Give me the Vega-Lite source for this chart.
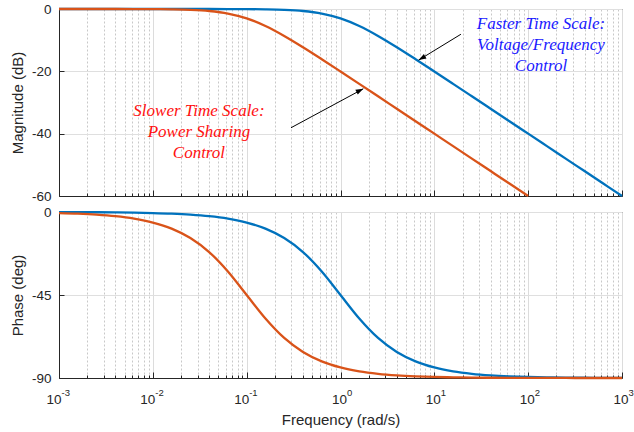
{
  "$schema": "https://vega.github.io/schema/vega-lite/v6.json",
  "background": "white",
  "padding": {"left": 9, "top": 1, "right": 5, "bottom": 5},
  "spacing": 16,
  "bounds": "flush",
  "config": {
    "view": {"stroke": "#262626", "strokeWidth": 1},
    "axis": {
      "labelFont": "Liberation Sans",
      "titleFont": "Liberation Sans",
      "labelColor": "#262626",
      "titleColor": "#262626",
      "labelFontSize": 13.5,
      "titleFontSize": 15,
      "titleFontWeight": "normal",
      "domainColor": "#262626",
      "tickColor": "#262626",
      "gridColor": "#dfdfdf",
      "labelFlush": false,
      "labelOverlap": false
    }
  },
  "datasets": {
    "curves": [
      {"w": 0.001, "mb": 0, "mr": -0.0004, "pb": -0.057, "pr": -0.573},
      {"w": 0.001585, "mb": 0, "mr": -0.001, "pb": -0.091, "pr": -0.908},
      {"w": 0.002512, "mb": 0, "mr": -0.003, "pb": -0.144, "pr": -1.439},
      {"w": 0.003981, "mb": 0, "mr": -0.007, "pb": -0.228, "pr": -2.28},
      {"w": 0.00631, "mb": 0, "mr": -0.017, "pb": -0.362, "pr": -3.611},
      {"w": 0.01, "mb": -0.0004, "mr": -0.043, "pb": -0.573, "pr": -5.711},
      {"w": 0.01585, "mb": -0.001, "mr": -0.108, "pb": -0.908, "pr": -9.006},
      {"w": 0.02512, "mb": -0.003, "mr": -0.266, "pb": -1.439, "pr": -14.1},
      {"w": 0.03981, "mb": -0.007, "mr": -0.639, "pb": -2.28, "pr": -21.7},
      {"w": 0.0631, "mb": -0.017, "mr": -1.456, "pb": -3.611, "pr": -32.25},
      {"w": 0.1, "mb": -0.043, "mr": -3.01, "pb": -5.711, "pr": -45},
      {"w": 0.1585, "mb": -0.108, "mr": -5.455, "pb": -9.006, "pr": -57.75},
      {"w": 0.2512, "mb": -0.266, "mr": -8.639, "pb": -14.1, "pr": -68.3},
      {"w": 0.3981, "mb": -0.639, "mr": -12.266, "pb": -21.7, "pr": -75.9},
      {"w": 0.631, "mb": -1.456, "mr": -16.108, "pb": -32.25, "pr": -80.99},
      {"w": 1, "mb": -3.01, "mr": -20.043, "pb": -45, "pr": -84.29},
      {"w": 1.585, "mb": -5.455, "mr": -24.017, "pb": -57.75, "pr": -86.39},
      {"w": 2.512, "mb": -8.639, "mr": -28.007, "pb": -68.3, "pr": -87.72},
      {"w": 3.981, "mb": -12.266, "mr": -32.003, "pb": -75.9, "pr": -88.56},
      {"w": 6.31, "mb": -16.108, "mr": -36.001, "pb": -80.99, "pr": -89.09},
      {"w": 10, "mb": -20.043, "mr": -40, "pb": -84.29, "pr": -89.43},
      {"w": 15.85, "mb": -24.017, "mr": -44, "pb": -86.39, "pr": -89.64},
      {"w": 25.12, "mb": -28.007, "mr": -48, "pb": -87.72, "pr": -89.77},
      {"w": 39.81, "mb": -32.003, "mr": -52, "pb": -88.56, "pr": -89.86},
      {"w": 63.1, "mb": -36.001, "mr": -56, "pb": -89.09, "pr": -89.91},
      {"w": 100, "mb": -40, "mr": -60, "pb": -89.43, "pr": -89.94},
      {"w": 158.5, "mb": -44, "pb": -89.64, "pr": -89.96},
      {"w": 251.2, "mb": -48, "pb": -89.77, "pr": -89.98},
      {"w": 398.1, "mb": -52, "pb": -89.86, "pr": -89.99},
      {"w": 631, "mb": -56, "pb": -89.91, "pr": -89.99},
      {"w": 1000, "mb": -60, "pb": -89.94, "pr": -89.99}
    ],
    "arrows": [
      {"id": "slow", "x0": 0.297, "y0": -38.1, "x1": 1.75, "y1": -25.6},
      {"id": "fast", "x0": 19.2, "y0": -8.1, "x1": 6.8, "y1": -16.4}
    ],
    "notes": [
      {"id": "slow", "x": 0.031, "y": -32.7, "label": "Slower Time Scale:\nPower Sharing\nControl"},
      {"id": "fast", "x": 137, "y": -4.9, "label": "Faster Time Scale:\nVoltage/Frequency\nControl"}
    ],
    "exps": [
      {"w": 0.001, "e": "-3"},
      {"w": 0.01, "e": "-2"},
      {"w": 0.1, "e": "-1"},
      {"w": 1, "e": "0"},
      {"w": 10, "e": "1"},
      {"w": 100, "e": "2"},
      {"w": 1000, "e": "3"}
    ]
  },
  "vconcat": [
    {
      "width": 563,
      "height": 187,
      "layer": [
        {
          "data": {"name": "curves"},
          "mark": {"type": "line", "color": "#0072BD", "strokeWidth": 2.3, "interpolate": "monotone"},
          "encoding": {
            "x": {
              "field": "w", "type": "quantitative",
              "scale": {"type": "log", "domain": [0.001, 1000], "nice": false},
              "axis": {
                "title": null,
                "labels": false,
                "values": [0.001,0.002,0.003,0.004,0.005,0.006,0.007,0.008,0.009,0.01,0.02,0.03,0.04,0.05,0.06,0.07,0.08,0.09,0.1,0.2,0.3,0.4,0.5,0.6,0.7,0.8,0.9,1,2,3,4,5,6,7,8,9,10,20,30,40,50,60,70,80,90,100,200,300,400,500,600,700,800,900,1000],
                "tickSize": {"condition": {"test": "abs(log(datum.value)/LN10 - round(log(datum.value)/LN10)) < 0.001", "value": -6}, "value": -3},
                "gridDash": {"condition": {"test": "abs(log(datum.value)/LN10 - round(log(datum.value)/LN10)) < 0.001", "value": []}, "value": [2, 2]},
                "gridColor": {"condition": {"test": "abs(log(datum.value)/LN10 - round(log(datum.value)/LN10)) < 0.001", "value": "#dcdcdc"}, "value": "#c8c8c8"}
              }
            },
            "y": {
              "field": "mb", "type": "quantitative",
              "scale": {"domain": [-60, 0], "nice": false},
              "axis": {
                "title": "Magnitude (dB)",
                "values": [-60, -40, -20, 0],
                "labelExpr": "'' + datum.value",
                "tickSize": -5,
                "labelPadding": 13,
                "titlePadding": 6
              }
            }
          }
        },
        {
          "data": {"name": "curves"},
          "mark": {"type": "line", "color": "#D95319", "strokeWidth": 2.3, "interpolate": "monotone"},
          "encoding": {
            "x": {"field": "w", "type": "quantitative"},
            "y": {"field": "mr", "type": "quantitative"}
          }
        },
        {
          "data": {"name": "arrows"},
          "mark": {"type": "rule", "color": "black", "strokeWidth": 1},
          "encoding": {
            "x": {"field": "x0", "type": "quantitative"},
            "y": {"field": "y0", "type": "quantitative"},
            "x2": {"field": "x1"},
            "y2": {"field": "y1"}
          }
        },
        {
          "data": {"name": "arrows"},
          "transform": [{"filter": "datum.id == 'slow'"}],
          "mark": {"type": "point", "shape": "M0,0L-0.35,1L0.35,1Z", "filled": true, "color": "black", "opacity": 1, "size": 230, "angle": 63},
          "encoding": {
            "x": {"field": "x1", "type": "quantitative"},
            "y": {"field": "y1", "type": "quantitative"}
          }
        },
        {
          "data": {"name": "arrows"},
          "transform": [{"filter": "datum.id == 'fast'"}],
          "mark": {"type": "point", "shape": "M0,0L-0.35,1L0.35,1Z", "filled": true, "color": "black", "opacity": 1, "size": 230, "angle": 240},
          "encoding": {
            "x": {"field": "x1", "type": "quantitative"},
            "y": {"field": "y1", "type": "quantitative"}
          }
        },
        {
          "data": {"name": "notes"},
          "mark": {"type": "text", "font": "Liberation Serif", "fontStyle": "italic", "fontSize": 17, "lineBreak": "\n", "lineHeight": 21, "align": "center", "baseline": "middle"},
          "encoding": {
            "x": {"field": "x", "type": "quantitative"},
            "y": {"field": "y", "type": "quantitative"},
            "text": {"field": "label"},
            "color": {"field": "id", "type": "nominal", "scale": {"domain": ["slow", "fast"], "range": ["#ff1010", "#1a1aff"]}, "legend": null}
          }
        }
      ]
    },
    {
      "width": 563,
      "height": 166,
      "layer": [
        {
          "data": {"name": "curves"},
          "mark": {"type": "line", "color": "#0072BD", "strokeWidth": 2.3, "interpolate": "monotone"},
          "encoding": {
            "x": {
              "field": "w", "type": "quantitative",
              "scale": {"type": "log", "domain": [0.001, 1000], "nice": false},
              "axis": {
                "title": "Frequency  (rad/s)",
                "values": [0.001,0.002,0.003,0.004,0.005,0.006,0.007,0.008,0.009,0.01,0.02,0.03,0.04,0.05,0.06,0.07,0.08,0.09,0.1,0.2,0.3,0.4,0.5,0.6,0.7,0.8,0.9,1,2,3,4,5,6,7,8,9,10,20,30,40,50,60,70,80,90,100,200,300,400,500,600,700,800,900,1000],
                "labelExpr": "abs(log(datum.value)/LN10 - round(log(datum.value)/LN10)) > 0.001 ? '' : '10'",
                "labelAlign": "right",
                "labelOffset": {"condition": {"test": "datum.value < 0.5", "value": 2}, "value": 6},
                "tickSize": {"condition": {"test": "abs(log(datum.value)/LN10 - round(log(datum.value)/LN10)) < 0.001", "value": -6}, "value": -3},
                "gridDash": {"condition": {"test": "abs(log(datum.value)/LN10 - round(log(datum.value)/LN10)) < 0.001", "value": []}, "value": [2, 2]},
                "gridColor": {"condition": {"test": "abs(log(datum.value)/LN10 - round(log(datum.value)/LN10)) < 0.001", "value": "#dcdcdc"}, "value": "#c8c8c8"},
                "labelPadding": 20,
                "titlePadding": 4
              }
            },
            "y": {
              "field": "pb", "type": "quantitative",
              "scale": {"domain": [-90, 0], "nice": false},
              "axis": {
                "title": "Phase (deg)",
                "values": [-90, -45, 0],
                "labelExpr": "'' + datum.value",
                "tickSize": -5,
                "labelPadding": 13,
                "titlePadding": 6
              }
            }
          }
        },
        {
          "data": {"name": "curves"},
          "mark": {"type": "line", "color": "#D95319", "strokeWidth": 2.3, "interpolate": "monotone"},
          "encoding": {
            "x": {"field": "w", "type": "quantitative"},
            "y": {"field": "pr", "type": "quantitative"}
          }
        },
        {
          "data": {"name": "exps"},
          "transform": [{"filter": "datum.w < 0.5"}],
          "mark": {"type": "text", "font": "Liberation Sans", "fontSize": 9.5, "color": "#262626", "align": "left", "baseline": "middle", "dx": 2.5, "dy": 15},
          "encoding": {
            "x": {"field": "w", "type": "quantitative"},
            "y": {"datum": -90},
            "text": {"field": "e"}
          }
        },
        {
          "data": {"name": "exps"},
          "transform": [{"filter": "datum.w > 0.5"}],
          "mark": {"type": "text", "font": "Liberation Sans", "fontSize": 9.5, "color": "#262626", "align": "left", "baseline": "middle", "dx": 6.5, "dy": 15},
          "encoding": {
            "x": {"field": "w", "type": "quantitative"},
            "y": {"datum": -90},
            "text": {"field": "e"}
          }
        }
      ]
    }
  ]
}
